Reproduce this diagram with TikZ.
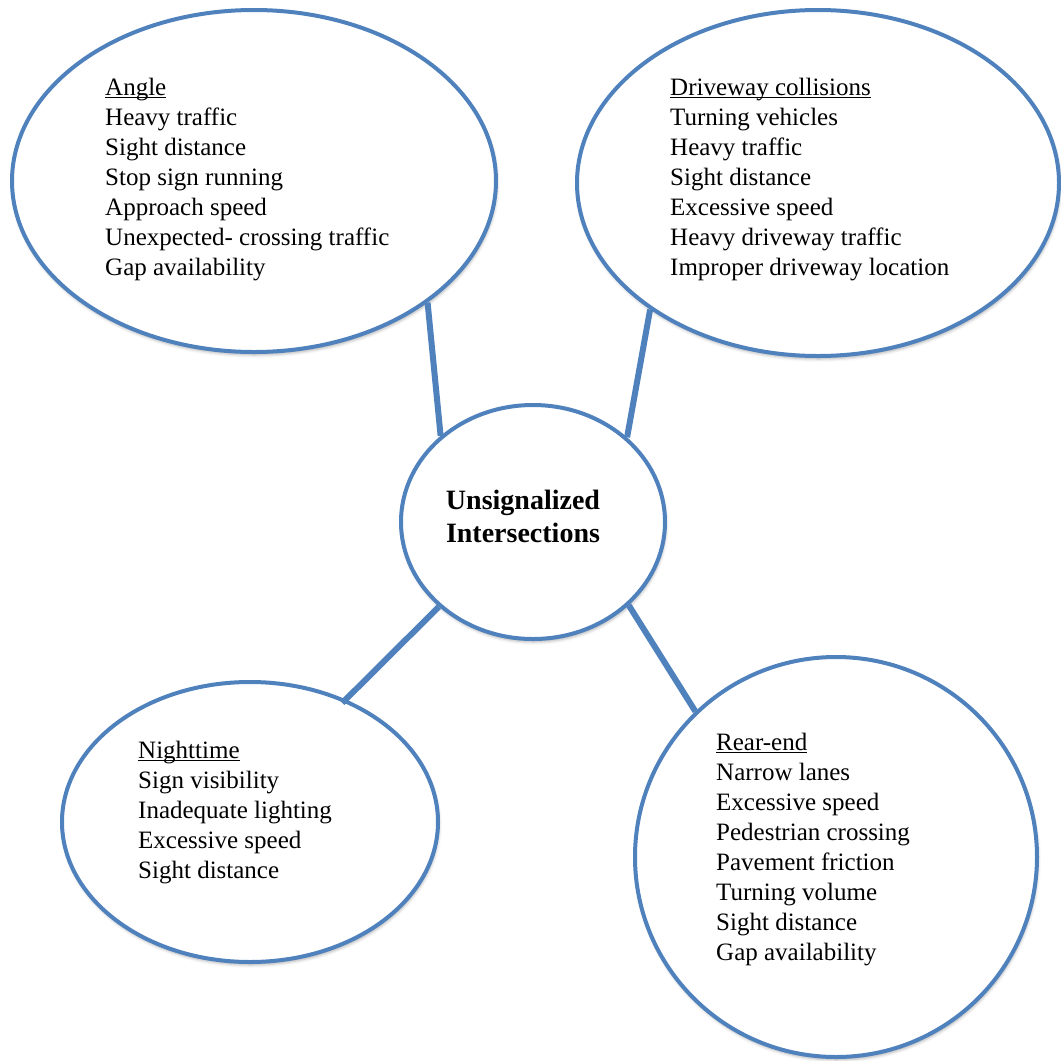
\documentclass[tikz,border=0pt]{standalone}
\usepackage{fontspec}
\setmainfont{Liberation Serif}
\usetikzlibrary{shapes.geometric,shadows.blur}
\definecolor{ovalblue}{HTML}{4F81BD}
\newcommand{\uhead}[1]{\setbox0\hbox{#1}\rlap{\rule[-2.6pt]{\wd0}{1.1pt}}\box0}

\begin{document}
\begin{tikzpicture}[x=1pt,y=-1pt,
  oval/.style={ellipse,draw=ovalblue,line width=4pt,fill=white,inner sep=0pt,
    blur shadow={shadow xshift=1pt,shadow yshift=-3pt,shadow blur radius=3pt,shadow opacity=30}},
  items/.style={anchor=base west,align=left,inner sep=0pt,font=\fontsize{25}{30}\selectfont},
  link/.style={draw=ovalblue,line width=6pt}]
  \useasboundingbox (0,0) rectangle (1061,1061);

  % the four groups and the hub
  \node[oval,minimum width=484pt,minimum height=342pt] (angleoval) at (254,181) {};
  \node[oval,minimum width=482pt,minimum height=346pt] (drivewayoval) at (818,183) {};
  \node[oval,minimum width=376pt,minimum height=280pt] (nightoval) at (250,822) {};
  \node[oval,minimum width=402pt,minimum height=400pt] (rearoval) at (836,857) {};
  \node[oval,minimum width=264pt,minimum height=234pt] (hub) at (533,522) {};

  \node[font=\fontsize{28}{33}\selectfont\bfseries,align=center] (hubtext) at (523,516)
    {Unsignalized\\Intersections};

  % lists: anchored on the baseline of the last line
  \node[items] (angletext) at (105,275) {\uhead{Angle}\\Heavy traffic\\Sight distance\\
    Stop sign running\\Approach speed\\Unexpected- crossing traffic\\Gap availability};
  \node[items] (drivewaytext) at (670,275) {\uhead{Driveway collisions}\\Turning vehicles\\
    Heavy traffic\\Sight distance\\Excessive speed\\Heavy driveway traffic\\
    Improper driveway location};
  \node[items] (nighttext) at (138,878) {\uhead{Nighttime}\\Sign visibility\\
    Inadequate lighting\\Excessive speed\\Sight distance};
  \node[items] (reartext) at (716,960) {\uhead{Rear-end}\\Narrow lanes\\Excessive speed\\
    Pedestrian crossing\\Pavement friction\\Turning volume\\Sight distance\\Gap availability};

  % spokes
  \draw[link] (angleoval.-35.6) -- (hub.137);
  \draw[link] (drivewayoval.-143.9) -- (hub.42.4);
  \draw[link,shorten <=-5pt] (nightoval.52.4) -- (hub.-138.9);
  \draw[link] (rearoval.134.8) -- (hub.-41.4);
\end{tikzpicture}
\end{document}
